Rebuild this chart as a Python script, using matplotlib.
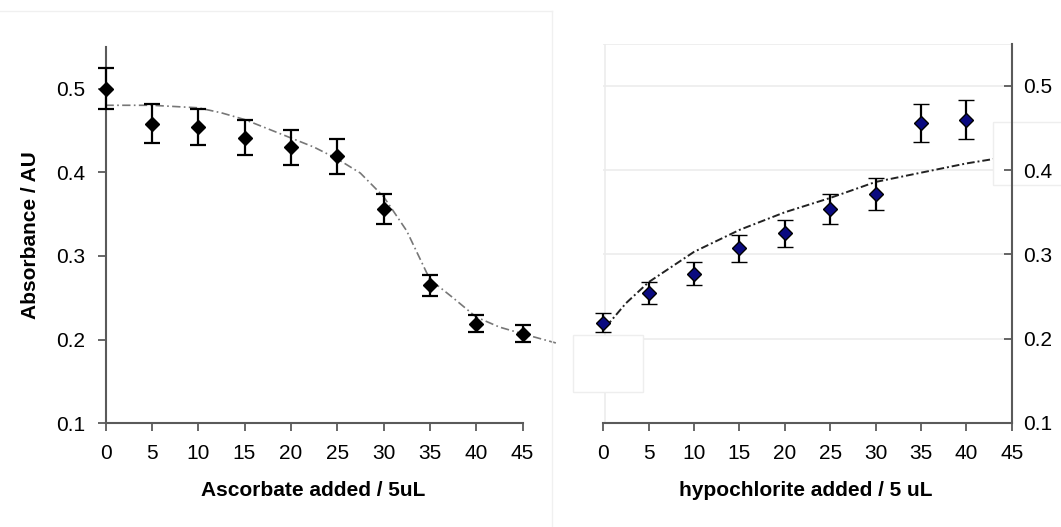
import matplotlib
matplotlib.use("Agg")
import matplotlib.pyplot as plt
from matplotlib.patches import Rectangle
from matplotlib.lines import Line2D

plt.rcParams['font.family'] = ['Liberation Sans', 'DejaVu Sans']

# left panel: ascorbate titration
asc_x = [0, 5, 10, 15, 20, 25, 30, 35, 40, 45]
asc_y = [0.500, 0.458, 0.454, 0.441, 0.430, 0.419, 0.356, 0.265, 0.219, 0.207]
asc_err = [0.025, 0.023, 0.022, 0.021, 0.021, 0.021, 0.018, 0.0125, 0.0105, 0.010]
# fitted curve
asc_fit_x = [0, 5, 10, 12.5, 15, 17.5, 20, 22.5, 25, 27.5, 30, 32.5, 35, 37.5, 40, 42.5, 45, 48.6]
asc_fit_y = [0.480, 0.480, 0.477, 0.471, 0.463, 0.452, 0.441, 0.430, 0.416, 0.399, 0.371, 0.330,
             0.272, 0.250, 0.227, 0.215, 0.207, 0.196]

# right panel: hypochlorite titration
hyp_x = [0, 5, 10, 15, 20, 25, 30, 35, 40]
hyp_y = [0.219, 0.254, 0.277, 0.307, 0.325, 0.354, 0.372, 0.456, 0.460]
hyp_err = [0.011, 0.0133, 0.014, 0.016, 0.016, 0.0178, 0.019, 0.023, 0.023]
hyp_fit_x = [0.3, 2.5, 5, 10, 15, 20, 25, 30, 35, 40, 44]
hyp_fit_y = [0.214, 0.242, 0.267, 0.303, 0.329, 0.350, 0.367, 0.386, 0.397, 0.408, 0.415]

x_ticks = [0, 5, 10, 15, 20, 25, 30, 35, 40, 45]
y_ticks = [0.1, 0.2, 0.3, 0.4, 0.5]
y_labels = ['0.1', '0.2', '0.3', '0.4', '0.5']

spine_col = '#5a5a5a'
W, H = 1061, 527

fig = plt.figure(figsize=(10.61, 5.27), dpi=100)

# left axes
ax1 = fig.add_axes([105.5 / W, 1 - 423.3 / H, 417 / W, 376.6 / H])
ax1.set_xlim(0, 45)
ax1.set_ylim(0.1, 0.55)
ax1.plot(asc_fit_x, asc_fit_y, color='#777777', lw=1.2, dashes=(5, 2, 1, 2), clip_on=False, zorder=2)
eb = ax1.errorbar(asc_x, asc_y, yerr=asc_err, fmt='D', ms=7, color='black', mfc='black',
                  mec='black', ecolor='black', elinewidth=1.6, capsize=5.5, capthick=1.6, zorder=3)
for art in eb.get_children():
    art.set_clip_on(False)

for s in ['top', 'right']:
    ax1.spines[s].set_visible(False)
for s in ['left', 'bottom']:
    ax1.spines[s].set_color(spine_col)
    ax1.spines[s].set_linewidth(1.5)
ax1.set_xticks(x_ticks)
ax1.set_yticks(y_ticks)
ax1.set_yticklabels(y_labels)
ax1.tick_params(axis='both', direction='out', length=6, width=1.3, color=spine_col, labelsize=15)
ax1.tick_params(axis='x', pad=9)
ax1.tick_params(axis='y', pad=8.5)

# right axes
ax2 = fig.add_axes([603.3 / W, 1 - 422.7 / H, 408.4 / W, 378.8 / H])
ax2.set_xlim(0, 45)
ax2.set_ylim(0.1, 0.55)
ax2.set_axisbelow(False)
for yv in [0.2, 0.3, 0.4, 0.5, 0.55]:
    ax2.axhline(yv, color='#ececec', lw=1.2, zorder=0.5)
ax2.axvline(0.2, color='#ececec', lw=1.2, zorder=0.5)
ax2.plot(hyp_fit_x, hyp_fit_y, color='#222222', lw=1.4, dashes=(4, 1.5, 1, 1.5), zorder=2)
eb2 = ax2.errorbar(hyp_x, hyp_y, yerr=hyp_err, fmt='D', ms=7, color='black', mfc='#0a0a80',
                   mec='black', mew=1, ecolor='black', elinewidth=1.6, capsize=5.5, capthick=1.6, zorder=3)
for art in eb2.get_children():
    art.set_clip_on(False)

for s in ['top', 'left']:
    ax2.spines[s].set_visible(False)
for s in ['right', 'bottom']:
    ax2.spines[s].set_color(spine_col)
    ax2.spines[s].set_linewidth(1.5)
ax2.yaxis.tick_right()
ax2.set_xticks(x_ticks)
ax2.set_yticks(y_ticks)
ax2.set_yticklabels(y_labels)
ax2.tick_params(axis='x', direction='out', length=6, width=1.3, color=spine_col, labelsize=15, pad=9)
ax2.tick_params(axis='y', direction='in', length=6, width=1.3, color=spine_col, labelsize=15, pad=8.5)

# stray white boxes in the original picture
box1 = Rectangle((573 / W, 1 - 392 / H), 70 / W, 57 / H, transform=fig.transFigure,
                 facecolor='white', edgecolor='#eeeeee', lw=1, clip_on=False, zorder=2.3)
box2 = Rectangle((993 / W, 1 - 185 / H), 70 / W, 63 / H, transform=fig.transFigure,
                 facecolor='white', edgecolor='#eeeeee', lw=1, clip_on=False, zorder=2.3)
ax2.add_patch(box1)
ax2.add_patch(box2)

# faint frame of the left image
fig.add_artist(Line2D([0, 552 / W], [1 - 11 / H, 1 - 11 / H], color='#f0f0f0', lw=1))
fig.add_artist(Line2D([552 / W, 552 / W], [0, 1 - 11 / H], color='#f0f0f0', lw=1))

# axis labels
fig.text(31 / W, 1 - 235 / H, 'Absorbance / AU', rotation=90, ha='center', va='center',
         fontsize=15, fontweight='bold')
fig.text(313 / W, 1 - 491 / H, 'Ascorbate added / 5uL', ha='center', va='center',
         fontsize=15, fontweight='bold')
fig.text(806 / W, 1 - 491 / H, 'hypochlorite added / 5 uL', ha='center', va='center',
         fontsize=15, fontweight='bold')

fig.savefig('out.png', dpi=100)
